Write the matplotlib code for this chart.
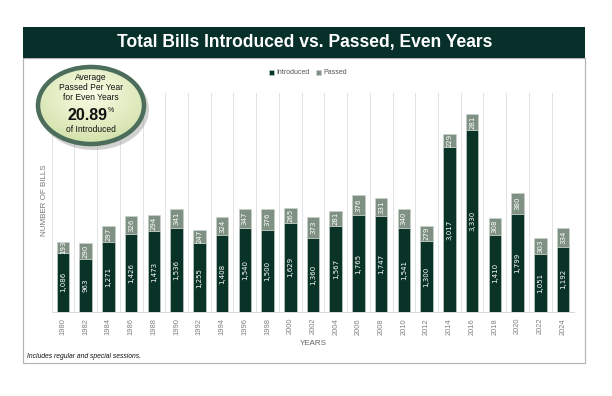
import numpy as np
import matplotlib
matplotlib.use("Agg")
import matplotlib.pyplot as plt
from matplotlib.patches import Rectangle, Ellipse

years = ['1980', '1982', '1984', '1986', '1988', '1990', '1992', '1994', '1996', '1998', '2000',
         '2002', '2004', '2006', '2008', '2010', '2012', '2014', '2016', '2018', '2020', '2022', '2024']
introduced = [1086, 963, 1271, 1426, 1473, 1536, 1255, 1408, 1540, 1500, 1629,
              1360, 1567, 1765, 1747, 1541, 1300, 3017, 3330, 1410, 1799, 1051, 1192]
passed = [193, 290, 297, 326, 294, 341, 247, 324, 347, 376, 265,
          373, 281, 376, 331, 340, 279, 229, 281, 308, 380, 303, 334]

title = "Total Bills Introduced vs. Passed, Even Years"
badge_pct = "20.89"

W, H = 612, 396
DARK = '#07302a'
GREEN = '#0a3328'
GRAY = '#7e9182'

plt.rcParams['font.family'] = ['Liberation Sans', 'DejaVu Sans']
fig = plt.figure(figsize=(W / 72, H / 72), dpi=72)
fig.patch.set_facecolor('white')

def px(x, y):
    # top-left pixel coords -> figure fraction
    return x / W, 1 - y / H

# outer frame and title banner
fig.add_artist(Rectangle(px(23, 363), 562 / W, 305 / H, transform=fig.transFigure,
                         facecolor='white', edgecolor='#b4b4b4', lw=1.2, zorder=-5))
fig.add_artist(Rectangle(px(23, 58), 562 / W, 31 / H, transform=fig.transFigure,
                         facecolor=DARK, edgecolor='none', zorder=-4))
fig.text(*px(305, 43), title, color='white', fontsize=17.5, fontweight='bold',
         ha='center', va='center')

# main axes
x0, x1 = 51.6, 574.4
ytop, ybot = 93, 312
ax = fig.add_axes([x0 / W, 1 - ybot / H, (x1 - x0) / W, (ybot - ytop) / H])
x = np.arange(len(years))
b1 = ax.bar(x, introduced, width=0.55, color=GREEN, edgecolor='#c9d1cb', lw=0.6,
            label='Introduced', zorder=3)
b2 = ax.bar(x, passed, width=0.55, bottom=introduced, color=GRAY, edgecolor='#c9d1cb',
            lw=0.6, label='Passed', zorder=3)

for i in range(len(years)):
    ax.text(x[i], introduced[i] / 2, f"{introduced[i]:,}", rotation=90, color='white',
            fontsize=7, family='DejaVu Sans', ha='center', va='center', zorder=4)
    ax.text(x[i], introduced[i] + passed[i] / 2, f"{passed[i]:,}", rotation=90,
            color='white', fontsize=7, family='DejaVu Sans', ha='center', va='center',
            zorder=4)

ax.set_xlim(-0.5, len(years) - 0.5)
ax.set_ylim(0, 4000)
ax.set_xticks(x)
ax.set_xticklabels(years, rotation=90, fontsize=7.5, color='#808080')
ax.tick_params(axis='x', length=0, pad=6)
ax.set_yticks([])
ax.set_xticks(np.arange(-0.5, len(years), 1), minor=True)
ax.tick_params(axis='x', which='minor', length=0)
ax.grid(axis='x', which='minor', color='#e2e2e2', lw=1, zorder=0)
for s in ['top', 'right', 'left']:
    ax.spines[s].set_visible(False)
ax.spines['bottom'].set_color('#d0d0d0')
ax.set_facecolor('none')

ax.set_xlabel('YEARS', fontsize=8, color='#666666', labelpad=5)
fig.text(*px(45, 200), 'NUMBER OF BILLS', rotation=90, fontsize=8, color='#777777',
         ha='center', va='center')

leg = fig.legend(handles=[b1, b2], loc='center', bbox_to_anchor=px(308, 73), ncol=2,
                 frameon=False, fontsize=7, handlelength=0.7, handleheight=0.7,
                 handletextpad=0.3, columnspacing=0.9)
for t in leg.get_texts():
    t.set_color('#555555')

fig.text(*px(27, 356), 'Includes regular and special sessions.', fontsize=6.8, style='italic',
         ha='left', va='center', color='#111111')

# badge
cx, cy, ew, eh = 91, 105.5, 110, 81
bax = fig.add_axes([0, 0, 1, 1], facecolor='none')
bax.axis('off')
bax.add_patch(Ellipse((cx + 3, cy + 4), ew, eh, facecolor='#9a9a9a', alpha=0.45,
                      edgecolor='none', zorder=1))
clip = Ellipse((cx, cy), ew, eh, facecolor='none', edgecolor='none')
bax.add_patch(clip)
gy, gx = np.mgrid[-1:1:120j, -1:1:160j]
r = np.sqrt(gx ** 2 + (gy + 0.3) ** 2)
c0 = np.array([0.98, 0.99, 0.90])
c1 = np.array([0.82, 0.88, 0.66])
img = c0 + (c1 - c0) * np.clip(r / 1.3, 0, 1)[..., None]
im = bax.imshow(img, extent=(cx - ew / 2, cx + ew / 2, cy + eh / 2, cy - eh / 2),
                zorder=2, aspect='auto')
im.set_clip_path(clip)
bax.add_patch(Ellipse((cx, cy), ew - 4, eh - 4, facecolor='none', edgecolor='#4d6d5c',
                      lw=4.5, zorder=3))
bax.set_xlim(0, W)
bax.set_ylim(H, 0)
for txt, yy in [('Average', 77), ('Passed Per Year', 88), ('for Even Years', 98)]:
    bax.text(cx, yy, txt, fontsize=8.5, ha='center', va='center', color='#111111', zorder=4)
bax.text(cx - 4, 115, badge_pct, fontsize=16, fontweight='bold', ha='center', va='center',
         color='#111111', zorder=4)
bax.text(cx + 20, 110, '%', fontsize=7, ha='center', va='center', color='#111111', zorder=4)
bax.text(cx, 130, 'of Introduced', fontsize=8.5, ha='center', va='center', color='#111111',
         zorder=4)

fig.savefig('out.png', dpi=72)
